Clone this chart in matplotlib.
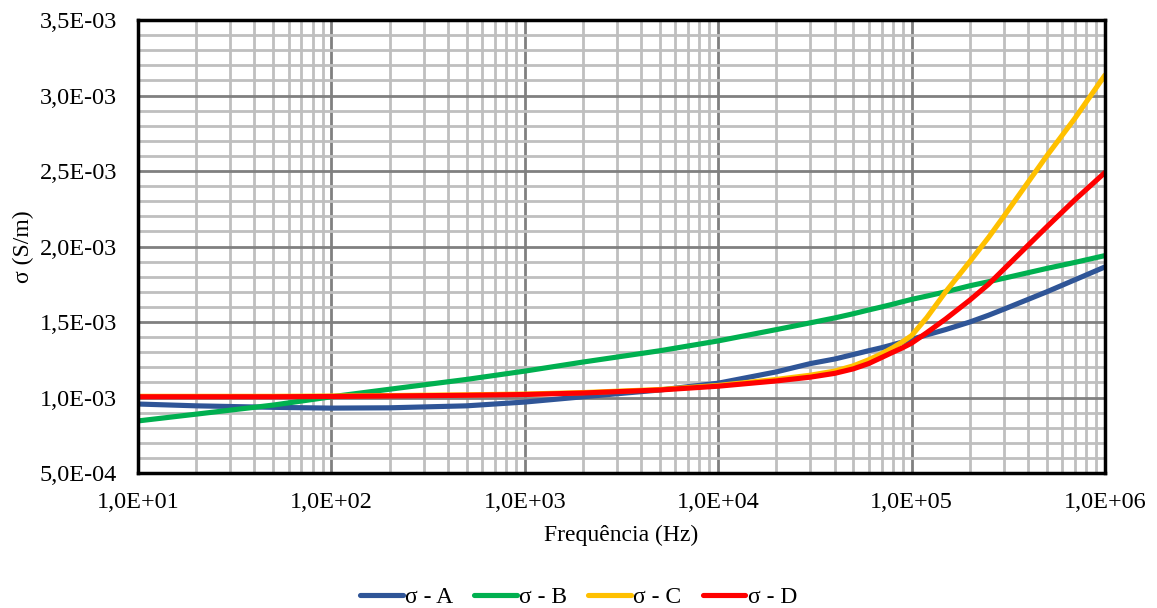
import matplotlib
matplotlib.use("Agg")
import matplotlib.pyplot as plt
from matplotlib.ticker import FuncFormatter, LogLocator, MultipleLocator

plt.rcParams['font.family'] = ['Liberation Serif', 'DejaVu Serif']

# frequency (Hz)
freq = [1e1, 2e1, 5e1, 1e2, 2e2, 5e2, 1e3, 2e3, 5e3, 1e4, 2e4, 3e4, 4e4, 5e4, 6e4,
        7e4, 8e4, 9e4, 1e5, 1.2e5, 1.5e5, 2e5, 2.5e5, 3e5, 5e5, 7e5, 1e6]

# conductivity (S/m)
sigma_a = [9.57e-4, 9.45e-4, 9.35e-4, 9.30e-4, 9.32e-4, 9.45e-4, 9.70e-4, 1.005e-3,
           1.05e-3, 1.095e-3, 1.17e-3, 1.225e-3, 1.255e-3, 1.285e-3, 1.31e-3,
           1.33e-3, 1.35e-3, 1.368e-3, 1.385e-3, 1.415e-3, 1.45e-3, 1.50e-3,
           1.545e-3, 1.585e-3, 1.70e-3, 1.78e-3, 1.865e-3]
sigma_b = [8.45e-4, 8.90e-4, 9.50e-4, 1.005e-3, 1.055e-3, 1.12e-3, 1.175e-3, 1.235e-3,
           1.31e-3, 1.375e-3, 1.45e-3, 1.495e-3, 1.527e-3, 1.555e-3, 1.58e-3,
           1.60e-3, 1.618e-3, 1.635e-3, 1.65e-3, 1.672e-3, 1.70e-3, 1.74e-3,
           1.767e-3, 1.79e-3, 1.855e-3, 1.895e-3, 1.94e-3]
sigma_c = [1.008e-3, 1.008e-3, 1.008e-3, 1.01e-3, 1.013e-3, 1.018e-3, 1.023e-3, 1.033e-3,
           1.053e-3, 1.08e-3, 1.12e-3, 1.148e-3, 1.175e-3, 1.21e-3, 1.25e-3,
           1.29e-3, 1.33e-3, 1.37e-3, 1.41e-3, 1.53e-3, 1.70e-3, 1.90e-3,
           2.06e-3, 2.20e-3, 2.60e-3, 2.85e-3, 3.135e-3]
sigma_d = [1.005e-3, 1.005e-3, 1.005e-3, 1.007e-3, 1.01e-3, 1.015e-3, 1.02e-3, 1.03e-3,
           1.05e-3, 1.075e-3, 1.11e-3, 1.135e-3, 1.16e-3, 1.19e-3, 1.225e-3,
           1.265e-3, 1.30e-3, 1.33e-3, 1.36e-3, 1.43e-3, 1.52e-3, 1.645e-3,
           1.75e-3, 1.85e-3, 2.13e-3, 2.31e-3, 2.49e-3]

labels = ['σ - A', 'σ - B', 'σ - C', 'σ - D']
colors = ['#2F5597', '#00B050', '#FFC000', '#FF0000']

fig = plt.figure(figsize=(11.57, 6.08), dpi=100)
ax = fig.add_axes([0.1193, 0.222, 0.8357, 0.745])

for s, lab, c in zip([sigma_a, sigma_b, sigma_c, sigma_d], labels, colors):
    ax.plot(freq, s, color=c, lw=3.7, label=lab, solid_capstyle='round',
            solid_joinstyle='round')

ax.set_xscale('log')
ax.set_xlim(10, 1e6)
ax.set_ylim(5e-4, 3.5e-3)
ax.xaxis.set_major_locator(LogLocator(base=10, numticks=10))
ax.xaxis.set_minor_locator(LogLocator(base=10, subs=range(2, 10), numticks=20))
ax.yaxis.set_major_locator(MultipleLocator(5e-4))
ax.yaxis.set_minor_locator(MultipleLocator(1e-4))

fmt = FuncFormatter(lambda v, p: f"{v:.1E}".replace('.', ','))
ax.xaxis.set_major_formatter(fmt)
ax.yaxis.set_major_formatter(fmt)
ax.xaxis.set_minor_formatter(FuncFormatter(lambda v, p: ''))

ax.grid(which='minor', color='#BFBFBF', lw=2.0, zorder=0)
ax.grid(which='major', color='#808080', lw=2.0, zorder=0)
ax.set_axisbelow(True)

ax.tick_params(which='both', length=0, labelsize=17.5)
ax.tick_params(axis='y', pad=15)
ax.tick_params(axis='x', pad=14)
for sp in ax.spines.values():
    sp.set_linewidth(2.5)
    sp.set_color('black')

ax.set_xlabel('Frequência (Hz)', fontsize=17, labelpad=8)
ax.set_ylabel('σ (S/m)', fontsize=17, labelpad=4)

fig.legend(loc='center', bbox_to_anchor=(0.5, 0.018), ncol=4, frameon=False,
           fontsize=17, handlelength=1.8, handletextpad=0.1, columnspacing=0.9)

fig.savefig('out.png', dpi=100)
